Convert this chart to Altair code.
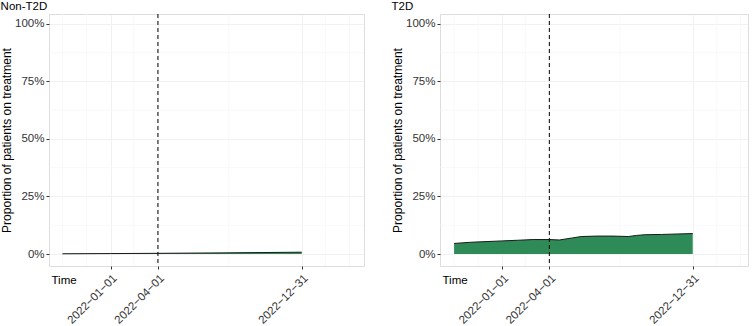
import altair as alt
import pandas as pd
from datetime import datetime, timedelta, timezone

# ---- data ----
t2d_dates = ["2021-10-01", "2021-11-01", "2021-12-01", "2022-01-01", "2022-02-01",
             "2022-03-01", "2022-04-01", "2022-04-20", "2022-05-15", "2022-06-01",
             "2022-07-01", "2022-08-01", "2022-08-30", "2022-09-15", "2022-10-01",
             "2022-11-01", "2022-12-01", "2022-12-31"]
t2d_values = [0.046, 0.051, 0.054, 0.057, 0.060,
              0.063, 0.063, 0.061, 0.070, 0.076,
              0.078, 0.078, 0.076, 0.081, 0.084,
              0.085, 0.087, 0.089]

non_dates = ["2021-10-01", "2022-01-01", "2022-04-01", "2022-08-01", "2022-12-31"]
non_values = [0.001, 0.002, 0.003, 0.005, 0.008]

major_dates = ["2022-01-01", "2022-04-01", "2022-12-31"]
minor_dates = ["2021-10-01", "2021-11-16", "2022-02-14", "2022-08-14", "2023-02-14", "2023-04-01"]
y_major = [0, 0.25, 0.5, 0.75, 1.0]
y_minor = [0.125, 0.375, 0.625, 0.875]
cutoff_dates = ["2022-04-01"]

FONT = "Liberation Sans"
FILL = "#2E8B57"
LABEL_SIZE = 11.5


def ms(d):
    return d.replace(tzinfo=timezone.utc).timestamp() * 1000


def dt(s):
    y, m, d = map(int, s.split("-"))
    return alt.DateTime(year=y, month=m, date=d, utc=True)


ref0 = datetime(2022, 1, 1)
ref1 = datetime(2022, 12, 31)


def panel(dates, values, title, days_before, days_after, width):
    df = pd.DataFrame({"date": dates, "value": values})
    xdom = [ms(ref0 - timedelta(days=days_before)), ms(ref1 + timedelta(days=days_after))]
    xscale = alt.Scale(type="utc", domain=xdom, nice=False)
    yscale = alt.Scale(domain=[-0.052, 1.043], nice=False, zero=False)

    xaxis = alt.Axis(values=[dt(s) for s in major_dates],
                     labelExpr="utcFormat(datum.value, '%Y\u2212%m\u2212%d')",
                     labelAngle=-45, labelAlign="right", labelBaseline="top",
                     labelPadding=3, labelOverlap=False, labelFlush=False,
                     labelFontSize=LABEL_SIZE, labelColor="#333333", labelFont=FONT,
                     title="Time", titleX=2, titleY=17, titleAlign="left",
                     titleBaseline="alphabetic", titleAngle=0, titleFont=FONT,
                     titleFontWeight="normal", titleFontSize=LABEL_SIZE, titleColor="black",
                     grid=True, domain=False, tickSize=3, tickColor="#333333",
                     gridColor="#efefef", gridWidth=0.9)
    yaxis = alt.Axis(values=y_major, format=".0%", title="Proportion of patients on treatment",
                     titleFontWeight="normal", titleFontSize=12, titlePadding=1, titleFont=FONT,
                     titleColor="black",
                     labelFontSize=LABEL_SIZE, labelColor="#333333", labelFont=FONT,
                     grid=True, domain=False, labelPadding=2, tickSize=3, tickColor="#333333",
                     gridColor="#efefef", gridWidth=0.9)

    minor_x = alt.Chart(pd.DataFrame({"date": minor_dates})).mark_rule(
        color="#f5f5f5", strokeWidth=0.7
    ).encode(x=alt.X("date:T", scale=xscale, axis=xaxis))
    minor_y = alt.Chart(pd.DataFrame({"value": y_minor})).mark_rule(
        color="#f5f5f5", strokeWidth=0.7
    ).encode(y=alt.Y("value:Q", scale=yscale, axis=yaxis))

    area = alt.Chart(df).mark_area(color=FILL, opacity=1).encode(
        x=alt.X("date:T", scale=xscale, axis=xaxis),
        y=alt.Y("value:Q", scale=yscale, axis=yaxis),
        y2=alt.datum(0),
    )
    line = alt.Chart(df).mark_line(color="#1a1a1a", strokeWidth=1).encode(
        x=alt.X("date:T", scale=xscale, axis=xaxis),
        y=alt.Y("value:Q", scale=yscale, axis=yaxis),
    )
    cut = alt.Chart(pd.DataFrame({"date": cutoff_dates})).mark_rule(
        color="black", strokeWidth=1, strokeDash=[4, 3]
    ).encode(x=alt.X("date:T", scale=xscale, axis=xaxis))

    return alt.layer(minor_x, minor_y, area, line, cut).properties(
        width=width, height=252,
        title=alt.TitleParams(title, anchor="start", frame="bounds", fontSize=11.5,
                              fontWeight="normal", font=FONT, color="black", offset=1),
    )


left = panel(non_dates, non_values, "Non-T2D", 117.6, 118.7, 315)
right = panel(t2d_dates, t2d_values, "T2D", 118.9, 105.6, 308)

chart = alt.hconcat(left, right, spacing=26).properties(
    padding={"left": 0, "top": 0, "right": 0, "bottom": 0}
).configure_view(
    stroke="#666666", strokeWidth=1.5
).configure(background="white")

chart.save("out.html", embed_options={"renderer": "svg", "actions": False})
